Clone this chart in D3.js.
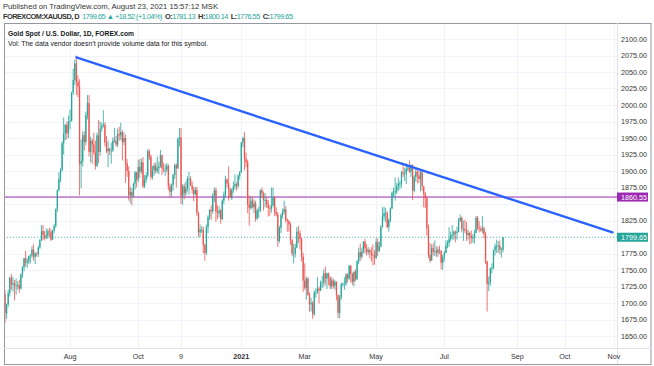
<!DOCTYPE html>
<html>
<head>
<meta charset="utf-8">
<script src="https://cdn.jsdelivr.net/npm/d3@7"></script>
<style>
  body { margin: 0; background: #fff; }
  text { font-family: "Liberation Sans", Arial, sans-serif; }
</style>
</head>
<body>
<script>
// daily bars, [day, open, high, low, close]
const jun20 = [[5,1713,1720,1670,1685],[8,1684,1699,1676,1698],[9,1698,1720,1694,1715],[10,1715,1740,1710,1738],[11,1738,1744,1720,1728],[12,1728,1740,1717,1730],[15,1730,1735,1704,1726],[16,1726,1737,1712,1727],[17,1727,1733,1720,1727],[18,1727,1735,1715,1722],[19,1722,1745,1720,1743],[22,1743,1756,1738,1754],[23,1754,1768,1748,1768],[24,1768,1779,1755,1761],[25,1761,1768,1753,1763],[26,1763,1772,1759,1771],[29,1771,1774,1760,1772],[30,1772,1786,1768,1781]];
const jul20 = [[1,1781,1789,1764,1770],[2,1770,1777,1759,1775],[3,1775,1777,1770,1774],[6,1774,1787,1770,1784],[7,1784,1797,1782,1795],[8,1795,1818,1794,1809],[9,1809,1818,1795,1803],[10,1803,1809,1795,1799],[13,1799,1813,1797,1802],[14,1802,1812,1797,1809],[15,1809,1814,1800,1808],[16,1808,1812,1794,1796],[17,1796,1811,1796,1810],[20,1810,1820,1806,1817],[21,1817,1843,1814,1842],[22,1842,1872,1838,1871],[23,1871,1898,1869,1888],[24,1888,1904,1883,1902],[27,1902,1945,1899,1942],[28,1942,1981,1925,1957],[29,1957,1971,1947,1970],[30,1970,1975,1948,1957],[31,1957,1984,1950,1975]];
const aug20 = [[3,1975,1993,1963,1976],[4,1976,2020,1975,2019],[5,2019,2055,2015,2038],[6,2038,2069,2030,2063],[7,2063,2075,2015,2035],[10,2035,2045,2012,2028],[11,2028,2039,1863,1911],[12,1911,1948,1874,1915],[13,1915,1960,1907,1954],[14,1954,1960,1931,1944],[17,1944,1990,1939,1985],[18,1985,2015,1978,2003],[19,2003,2015,1922,1929],[20,1929,1952,1913,1946],[21,1946,1949,1911,1940],[24,1940,1958,1925,1928],[25,1928,1946,1902,1908],[26,1908,1958,1906,1954],[27,1954,1977,1912,1929],[28,1929,1975,1923,1964],[31,1964,1973,1960,1968]];
const sep20 = [[1,1968,1992,1966,1970],[2,1970,1974,1937,1943],[3,1943,1953,1927,1930],[4,1930,1946,1906,1934],[7,1934,1935,1924,1931],[8,1931,1943,1911,1931],[9,1931,1951,1929,1946],[10,1946,1965,1943,1946],[11,1946,1953,1937,1940],[14,1940,1964,1936,1956],[15,1956,1967,1946,1954],[16,1954,1973,1947,1959],[17,1959,1962,1916,1944],[18,1944,1959,1939,1950],[21,1950,1955,1882,1912],[22,1912,1918,1891,1900],[23,1900,1907,1855,1863],[24,1863,1876,1851,1868],[25,1868,1874,1848,1862],[28,1862,1882,1859,1881],[29,1881,1900,1872,1898],[30,1898,1899,1875,1887]];
const oct20 = [[1,1887,1917,1883,1906],[2,1906,1918,1890,1899],[5,1899,1919,1896,1913],[6,1913,1921,1874,1877],[7,1877,1894,1874,1887],[8,1887,1898,1882,1893],[9,1893,1933,1890,1930],[12,1930,1933,1917,1922],[13,1922,1925,1887,1891],[14,1891,1908,1887,1901],[15,1901,1912,1893,1908],[16,1908,1913,1896,1900],[19,1900,1922,1897,1904],[20,1904,1914,1895,1907],[21,1907,1932,1905,1924],[22,1924,1925,1894,1904],[23,1904,1912,1898,1902],[26,1902,1910,1893,1902],[27,1902,1912,1898,1908],[28,1908,1910,1871,1877],[29,1877,1881,1859,1868],[30,1868,1881,1861,1879]];
const nov20 = [[2,1879,1896,1870,1894],[3,1894,1911,1888,1909],[4,1909,1912,1875,1904],[5,1904,1951,1903,1949],[6,1949,1965,1937,1951],[9,1951,1965,1850,1862],[10,1862,1880,1849,1877],[11,1877,1881,1857,1866],[12,1866,1884,1862,1874],[13,1874,1892,1869,1888],[16,1888,1899,1864,1888],[17,1888,1892,1877,1878],[18,1878,1884,1866,1872],[19,1872,1876,1854,1865],[20,1865,1876,1863,1871],[23,1871,1876,1832,1837],[24,1837,1838,1800,1807],[25,1807,1819,1800,1811],[26,1811,1816,1806,1811],[27,1811,1816,1775,1788],[30,1788,1790,1764,1776]];
const dec20 = [[1,1776,1819,1773,1815],[2,1815,1833,1806,1830],[3,1830,1842,1826,1841],[4,1841,1848,1826,1839],[7,1839,1866,1835,1863],[8,1863,1875,1853,1871],[9,1871,1875,1823,1838],[10,1838,1848,1827,1836],[11,1836,1846,1830,1840],[14,1840,1842,1820,1827],[15,1827,1857,1826,1855],[16,1855,1869,1850,1864],[17,1864,1893,1860,1887],[18,1887,1889,1875,1881],[21,1881,1907,1855,1872],[22,1872,1875,1859,1859],[23,1859,1874,1856,1871],[24,1871,1884,1867,1877],[28,1877,1895,1872,1880],[29,1880,1883,1870,1877],[30,1877,1895,1874,1893],[31,1893,1900,1887,1898]];
const jan21 = [[4,1898,1944,1898,1943],[5,1943,1952,1936,1950],[6,1950,1959,1901,1919],[7,1919,1928,1906,1913],[8,1913,1917,1836,1849],[11,1849,1863,1817,1844],[12,1844,1861,1841,1855],[13,1855,1862,1843,1845],[14,1845,1857,1836,1851],[15,1851,1855,1823,1828],[18,1828,1843,1826,1840],[19,1840,1846,1829,1840],[20,1840,1872,1838,1871],[21,1871,1875,1859,1866],[22,1866,1869,1840,1856],[25,1856,1867,1845,1856],[26,1856,1860,1844,1850],[27,1850,1856,1831,1844],[28,1844,1848,1832,1843],[29,1843,1875,1837,1848]];
const feb21 = [[1,1848,1875,1845,1860],[2,1860,1862,1832,1838],[3,1838,1845,1831,1834],[4,1834,1838,1785,1794],[5,1794,1817,1791,1814],[8,1814,1836,1806,1833],[9,1833,1843,1828,1838],[10,1838,1855,1834,1842],[11,1842,1847,1822,1826],[12,1826,1828,1808,1824],[15,1824,1826,1808,1819],[16,1819,1822,1788,1795],[17,1795,1797,1771,1775],[18,1775,1790,1760,1775],[19,1775,1790,1769,1784],[22,1784,1815,1783,1808],[23,1808,1817,1791,1806],[24,1806,1810,1781,1797],[25,1797,1799,1763,1770],[26,1770,1776,1717,1734]];
const mar21 = [[1,1734,1760,1720,1723],[2,1723,1740,1705,1737],[3,1737,1739,1711,1712],[4,1712,1716,1687,1698],[5,1698,1708,1687,1700],[8,1700,1703,1676,1683],[9,1683,1719,1680,1716],[10,1716,1722,1708,1716],[11,1716,1739,1714,1722],[12,1722,1725,1699,1719],[15,1719,1734,1718,1731],[16,1731,1741,1723,1731],[17,1731,1751,1724,1745],[18,1745,1755,1727,1737],[19,1737,1746,1721,1745],[22,1745,1746,1727,1738],[23,1738,1741,1721,1725],[24,1725,1739,1721,1734],[25,1734,1737,1722,1726],[26,1726,1735,1720,1732],[29,1732,1733,1704,1712],[30,1712,1713,1677,1685],[31,1685,1712,1677,1708]];
const apr21 = [[1,1708,1731,1705,1728],[2,1728,1731,1725,1729],[5,1729,1739,1720,1729],[6,1729,1745,1726,1743],[7,1743,1745,1731,1737],[8,1737,1758,1735,1756],[9,1756,1758,1731,1744],[12,1744,1746,1727,1732],[13,1732,1749,1725,1747],[14,1747,1751,1733,1736],[15,1736,1765,1735,1763],[16,1763,1784,1759,1777],[19,1777,1790,1764,1770],[20,1770,1784,1767,1778],[21,1778,1794,1775,1793],[22,1793,1797,1775,1783],[23,1783,1789,1772,1777],[26,1777,1785,1773,1780],[27,1780,1782,1768,1777],[28,1777,1785,1763,1773],[29,1773,1789,1757,1772],[30,1772,1780,1758,1768]];
const may21 = [[3,1768,1798,1767,1792],[4,1792,1798,1771,1779],[5,1779,1793,1777,1786],[6,1786,1818,1784,1815],[7,1815,1845,1814,1831],[10,1831,1846,1825,1836],[11,1836,1844,1822,1836],[12,1836,1839,1813,1815],[13,1815,1828,1808,1826],[14,1826,1845,1822,1843],[17,1843,1869,1843,1867],[18,1867,1875,1860,1869],[19,1869,1890,1855,1869],[20,1869,1882,1865,1877],[21,1877,1890,1870,1881],[24,1881,1885,1872,1881],[25,1881,1900,1875,1898],[26,1898,1913,1891,1896],[27,1896,1905,1885,1896],[28,1896,1912,1880,1903],[31,1903,1908,1900,1905]];
const jun21 = [[1,1905,1916,1897,1899],[2,1899,1910,1891,1909],[3,1909,1910,1856,1870],[4,1870,1894,1868,1891],[7,1891,1903,1884,1899],[8,1899,1903,1881,1893],[9,1893,1900,1882,1888],[10,1888,1903,1869,1898],[11,1898,1903,1870,1877],[14,1877,1877,1845,1866],[15,1866,1868,1844,1859],[16,1859,1862,1802,1813],[17,1813,1819,1768,1773],[18,1773,1791,1761,1764],[21,1764,1789,1764,1783],[22,1783,1790,1772,1778],[23,1778,1795,1771,1779],[24,1779,1786,1770,1776],[25,1776,1785,1770,1781],[28,1781,1787,1774,1779],[29,1779,1780,1751,1761],[30,1761,1773,1750,1770]];
const jul21 = [[1,1770,1779,1763,1776],[2,1776,1795,1775,1787],[5,1787,1795,1783,1791],[6,1791,1815,1785,1797],[7,1797,1808,1793,1803],[8,1803,1818,1796,1803],[9,1803,1810,1796,1808],[12,1808,1810,1792,1806],[13,1806,1816,1796,1808],[14,1808,1829,1807,1824],[15,1824,1834,1823,1829],[16,1829,1831,1807,1812],[19,1812,1825,1794,1812],[20,1812,1826,1806,1810],[21,1810,1823,1794,1803],[22,1803,1811,1796,1806],[23,1806,1808,1789,1802],[26,1802,1810,1790,1798],[27,1798,1804,1791,1799],[28,1799,1811,1790,1806],[29,1806,1832,1806,1829],[30,1829,1832,1810,1814]];
const aug21 = [[2,1814,1824,1807,1812],[3,1812,1816,1808,1810],[4,1810,1832,1806,1813],[5,1813,1816,1798,1804],[6,1804,1808,1759,1763],[9,1763,1764,1687,1729],[10,1729,1740,1718,1731],[11,1731,1754,1726,1752],[12,1752,1760,1745,1753],[13,1753,1781,1751,1780],[16,1780,1790,1772,1786],[17,1786,1796,1776,1786],[18,1786,1794,1776,1787],[19,1787,1795,1774,1781],[20,1781,1784,1769,1781],[23,1781.13,1800.14,1776.55,1799.65]];

const months = [['2020-06', jun20], ['2020-07', jul20], ['2020-08', aug20], ['2020-09', sep20], ['2020-10', oct20], ['2020-11', nov20], ['2020-12', dec20], ['2021-01', jan21], ['2021-02', feb21], ['2021-03', mar21], ['2021-04', apr21], ['2021-05', may21], ['2021-06', jun21], ['2021-07', jul21], ['2021-08', aug21]];

const priceTicks = [1650, 1675, 1700, 1725, 1750, 1775, 1800, 1825, 1850, 1875, 1900, 1925, 1950, 1975, 2000, 2025, 2050, 2075, 2100];
const timeTicks = [['2020-08-03', 'Aug'], ['2020-10-01', 'Oct'], ['2020-11-09', '9'], ['2021-01-04', '2021'], ['2021-03-01', 'Mar'], ['2021-05-03', 'May'], ['2021-07-01', 'Jul'], ['2021-09-01', 'Sep'], ['2021-10-01', 'Oct'], ['2021-11-01', 'Nov']];
const trendLine = [['2020-08-07', 2072], ['2021-10-31', 1807]];
const levelLine = 1860.55;
const lastClose = 1799.65;

const W = 654, H = 366;
const pane = { left: 4, top: 23, right: 617, bottom: 348 };
const upColor = '#26a69a', downColor = '#ef5350';

let parseDay = d3.timeParse('%Y-%m-%d');
let bars = [];
months.forEach(([ym, rows]) => {
	rows.forEach(r => {
		bars.push({ date: parseDay(ym + '-' + String(r[0]).padStart(2, '0')), o: r[1], h: r[2], l: r[3], c: r[4] });
	});
});
bars.forEach((b, i) => b.i = i);
let last = bars[bars.length - 1];

// index on the bar axis: trading bars, then calendar days past the last bar
function dateIndex(dt) {
	if (dt > last.date) return last.i + d3.timeDay.count(last.date, dt);
	let b = bars.find(b => b.date >= dt);
	return b ? b.i : last.i;
}

let x = d3.scaleLinear().domain([0, last.i]).range([5, 503]);
let y = d3.scaleLinear().domain([1650, 2100]).range([336, 39]);
let step = x(1) - x(0);

let svg = d3.select('body').append('svg')
	.attr('width', W)
	.attr('height', H);

svg.append('rect').attr('width', W).attr('height', H).attr('fill', '#fff');

svg.append('clipPath').attr('id', 'pane')
	.append('rect')
	.attr('x', pane.left).attr('y', pane.top)
	.attr('width', pane.right - pane.left).attr('height', pane.bottom - pane.top);

// grid
let grid = svg.append('g').attr('clip-path', 'url(#pane)');
grid.selectAll('.hg').data(priceTicks).enter().append('line')
	.attr('x1', pane.left).attr('x2', pane.right)
	.attr('y1', d => Math.round(y(d)) + 0.5).attr('y2', d => Math.round(y(d)) + 0.5)
	.attr('stroke', '#f0f3fa');
grid.selectAll('.vg').data(timeTicks).enter().append('line')
	.attr('x1', d => Math.round(x(dateIndex(parseDay(d[0])))) + 0.5)
	.attr('x2', d => Math.round(x(dateIndex(parseDay(d[0])))) + 0.5)
	.attr('y1', pane.top).attr('y2', pane.bottom)
	.attr('stroke', '#f0f3fa');

let plot = svg.append('g').attr('clip-path', 'url(#pane)');

// level line and last price line
plot.append('line')
	.attr('x1', pane.left).attr('x2', pane.right)
	.attr('y1', y(levelLine)).attr('y2', y(levelLine))
	.attr('stroke', '#9c27b0').attr('stroke-width', 1);
plot.append('line')
	.attr('x1', pane.left).attr('x2', pane.right)
	.attr('y1', y(lastClose)).attr('y2', y(lastClose))
	.attr('stroke', upColor).attr('stroke-width', 1).attr('stroke-dasharray', '1,2')
	.attr('opacity', 0.7);

// candles
let candles = plot.selectAll('.candle').data(bars).enter().append('g').attr('class', 'candle');
candles.append('line')
	.attr('x1', d => x(d.i)).attr('x2', d => x(d.i))
	.attr('y1', d => y(d.h)).attr('y2', d => y(d.l))
	.attr('stroke', d => d.c >= d.o ? upColor : downColor)
	.attr('stroke-width', 0.8);
candles.append('rect')
	.attr('x', d => x(d.i) - step * 0.4)
	.attr('width', step * 0.8)
	.attr('y', d => y(Math.max(d.o, d.c)))
	.attr('height', d => Math.max(0.8, Math.abs(y(d.o) - y(d.c))))
	.attr('fill', d => d.c >= d.o ? upColor : downColor);

// trend line
plot.append('line')
	.attr('x1', x(dateIndex(parseDay(trendLine[0][0])))).attr('y1', y(trendLine[0][1]))
	.attr('x2', x(dateIndex(parseDay(trendLine[1][0])))).attr('y2', y(trendLine[1][1]))
	.attr('stroke', '#2962ff').attr('stroke-width', 2.4).attr('stroke-linecap', 'round');

// frame
svg.append('rect')
	.attr('x', pane.left + 0.5).attr('y', pane.top + 0.5)
	.attr('width', W - 3 - pane.left - 0.5).attr('height', 364 - pane.top)
	.attr('fill', 'none').attr('stroke', '#9598a1');
svg.append('line')
	.attr('x1', pane.right + 0.5).attr('x2', pane.right + 0.5)
	.attr('y1', pane.top).attr('y2', 364)
	.attr('stroke', '#e0e3eb');
svg.append('line')
	.attr('x1', pane.left).attr('x2', W - 3)
	.attr('y1', pane.bottom + 0.5).attr('y2', pane.bottom + 0.5)
	.attr('stroke', '#e0e3eb');

// price axis (labels under a price tag are hidden, as the tag covers them)
let tags = [levelLine, lastClose];
let yAxis = svg.append('g').attr('class', 'axis');
yAxis.selectAll('.pt').data(priceTicks.filter(p => tags.every(t => Math.abs(y(p) - y(t)) > 8))).enter().append('text')
	.attr('x', 621).attr('y', d => y(d) + 2.5)
	.attr('font-size', 7.2).attr('fill', '#333')
	.text(d => d3.format('.2f')(d));

function priceTag(v, color) {
	let g = yAxis.append('g').attr('transform', `translate(617, ${y(v)})`);
	g.append('rect').attr('x', 0).attr('y', -4.5).attr('width', 31).attr('height', 9).attr('fill', color);
	g.append('text').attr('x', 4).attr('y', 2.5).attr('font-size', 7.2).attr('fill', '#fff')
		.text(d3.format('.2f')(v));
}
priceTag(levelLine, '#9c27b0');
priceTag(lastClose, upColor);

// time axis
svg.append('g').selectAll('.tt').data(timeTicks).enter().append('text')
	.attr('x', d => x(dateIndex(parseDay(d[0]))))
	.attr('y', 359)
	.attr('text-anchor', 'middle')
	.attr('font-size', 7.2)
	.attr('font-weight', d => d[1] === '2021' ? 'bold' : 'normal')
	.attr('fill', '#333')
	.text(d => d[1]);

// header
svg.append('text').attr('x', 3).attr('y', 8.5).attr('font-size', 7.4).attr('fill', '#333')
	.attr('textLength', 215).attr('lengthAdjust', 'spacingAndGlyphs')
	.text('Published on TradingView.com, August 23, 2021 15:57:12 MSK');
let info = svg.append('text').attr('x', 3).attr('y', 18.5).attr('font-size', 7.4).attr('fill', '#333')
	.attr('textLength', 290).attr('lengthAdjust', 'spacing');
info.append('tspan').attr('font-weight', 'bold').text('FOREXCOM:XAUUSD, D');
info.append('tspan').attr('dx', 3).attr('fill', upColor).text('1799.65 \u25B2 +18.52 (+1.04%)');
[['O:', '1781.13'], ['H:', '1800.14'], ['L:', '1776.55'], ['C:', '1799.65']].forEach(([k, v]) => {
	info.append('tspan').attr('dx', 3).attr('font-weight', 'bold').text(k);
	info.append('tspan').attr('fill', upColor).text(v);
});

svg.append('text').attr('x', 8).attr('y', 36).attr('font-size', 7.8).attr('font-weight', 'bold').attr('fill', '#131722')
	.attr('textLength', 126).attr('lengthAdjust', 'spacingAndGlyphs')
	.text('Gold Spot / U.S. Dollar, 1D, FOREX.com');
svg.append('text').attr('x', 8).attr('y', 45.5).attr('font-size', 7).attr('fill', '#131722')
	.attr('textLength', 200).attr('lengthAdjust', 'spacingAndGlyphs')
	.text('Vol: The data vendor doesn\u2019t provide volume data for this symbol.');
</script>
</body>
</html>
